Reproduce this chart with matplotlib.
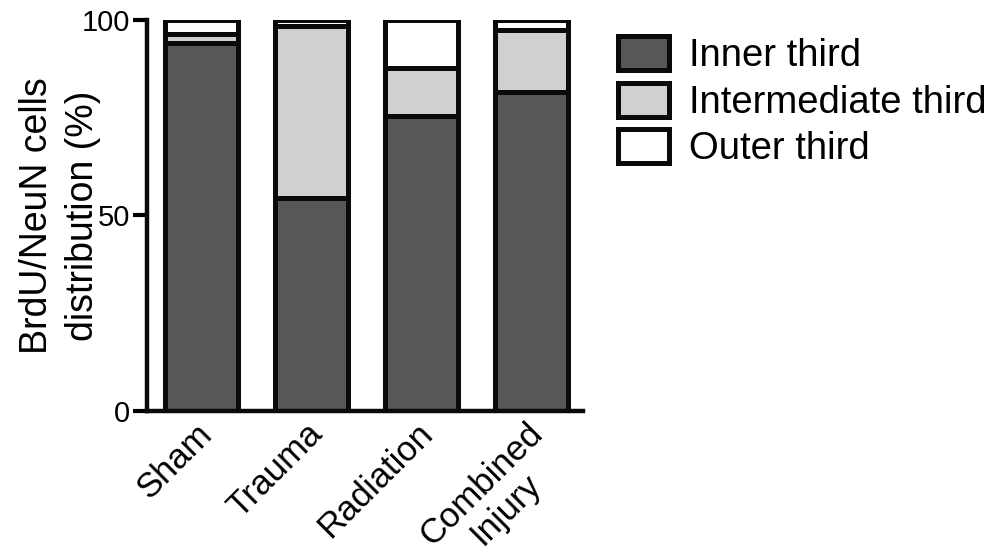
import matplotlib
matplotlib.use("Agg")
import matplotlib.pyplot as plt
import matplotlib.transforms as mtransforms
import numpy as np

plt.rcParams['font.family'] = ['Liberation Sans', 'DejaVu Sans']

groups = ["Sham", "Trauma", "Radiation", "Combined\nInjury"]
inner = [94.0, 54.5, 75.4, 81.5]
intermediate = [2.4, 44.0, 12.4, 16.0]
outer = [3.6, 1.5, 12.2, 2.5]
series_labels = ["Inner third", "Intermediate third", "Outer third"]
series_colors = ["#575757", "#d0d0d0", "#ffffff"]

fig = plt.figure(figsize=(9.9, 5.55), dpi=100)
ax = fig.add_axes([0.1485, 0.2595, 0.4405, 0.7045])

x = np.arange(len(groups))
width = 0.67
edge = "#0a0a0a"
lw = 3.6

bottom = np.zeros(len(groups))
handles = []
for vals, lab, col in zip([inner, intermediate, outer], series_labels, series_colors):
    b = ax.bar(x, vals, width, bottom=bottom, color=col, edgecolor=edge,
               linewidth=lw, label=lab, zorder=3)
    handles.append(b)
    bottom += np.array(vals)

ax.set_ylim(0, 100)
ax.set_xlim(-0.495, 3.47)
ax.set_yticks([0, 50, 100])
ax.set_yticklabels(["0", "50", "100"], fontsize=21)
ax.tick_params(axis='y', length=10, width=3, pad=2)

# category labels, rotated and anchored just below each bar
ax.set_xticks(x)
ax.set_xticklabels([])
ax.tick_params(axis='x', length=0)
offset = mtransforms.ScaledTranslation(-6 / 100, -6 / 100, fig.dpi_scale_trans)
for xi, g in zip(x, groups):
    ax.text(xi, 0, g, transform=ax.get_xaxis_transform() + offset,
            fontsize=25, rotation=45, ha='right', va='top',
            rotation_mode='anchor', multialignment='center',
            linespacing=1.1)

for s in ["top", "right"]:
    ax.spines[s].set_visible(False)
for s in ["left", "bottom"]:
    ax.spines[s].set_linewidth(3.2)
    ax.spines[s].set_color(edge)
ax.spines["bottom"].set_zorder(5)

ax.set_ylabel("BrdU/NeuN cells\ndistribution (%)", fontsize=27,
              linespacing=1.35)
ax.yaxis.set_label_coords(-0.105, 0.5)

leg = fig.legend(handles=handles, labels=series_labels, loc='upper left',
                 bbox_to_anchor=(618 / 990, 1 - 36 / 555), frameon=False,
                 fontsize=27.5, handlelength=1.33, handleheight=1.0,
                 handletextpad=0.52, labelspacing=0.22, borderpad=0,
                 borderaxespad=0)

fig.savefig("out.png", dpi=100)
